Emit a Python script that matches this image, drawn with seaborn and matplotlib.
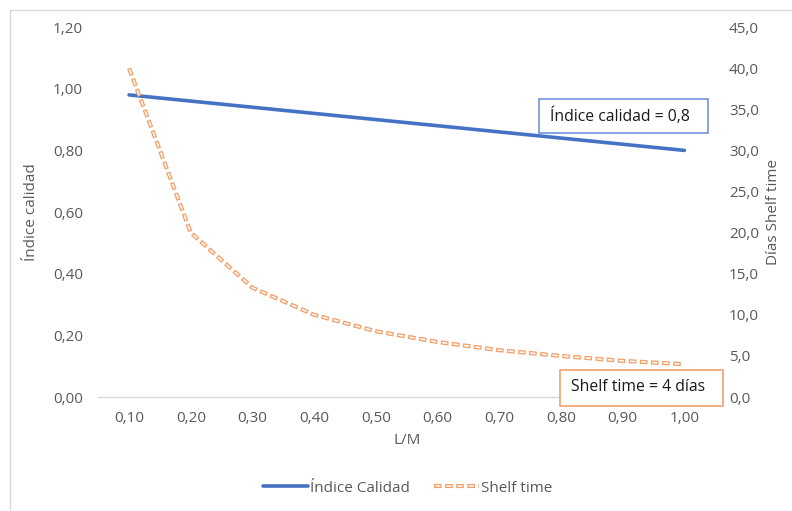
import matplotlib
matplotlib.use("Agg")
import matplotlib.pyplot as plt
from matplotlib.patches import Rectangle
from matplotlib.lines import Line2D
import seaborn as sns
import pandas as pd

lm_labels = ["0,10", "0,20", "0,30", "0,40", "0,50", "0,60", "0,70", "0,80", "0,90", "1,00"]
indice_calidad = [0.98, 0.96, 0.94, 0.92, 0.90, 0.88, 0.86, 0.84, 0.82, 0.80]
shelf_time = [40.0, 20.0, 13.3, 10.0, 8.0, 6.7, 5.7, 5.0, 4.4, 4.0]
left_ticks = ["0,00", "0,20", "0,40", "0,60", "0,80", "1,00", "1,20"]
right_ticks = ["0,0", "5,0", "10,0", "15,0", "20,0", "25,0", "30,0", "35,0", "40,0", "45,0"]

sns.set_theme(style="white")
plt.rcParams['font.family'] = ['Open Sans', 'DejaVu Sans']

BLUE = "#4472C4"
ORANGE_L = "#F2A06A"
GRAY = "#595959"

# dash pattern in points (absolute): orange outer dash, white inner
ON, OFF = 5.5, 2.5
OUT_LW, IN_LW = 3.0, 1.1
INSET = 0.9
outer_ls = (0, (ON / OUT_LW, OFF / OUT_LW))
inner_ls = (((ON + OFF) - INSET) / IN_LW, ((ON - 2 * INSET) / IN_LW, (OFF + 2 * INSET) / IN_LW))

df = pd.DataFrame({"lm": lm_labels, "ic": indice_calidad, "st": shelf_time})
df["pos"] = range(len(df))

fig = plt.figure(figsize=(7.92, 5.11), dpi=100)
ax = fig.add_axes([0.124, 0.223, 0.779, 0.724])
ax2 = ax.twinx()

sns.lineplot(data=df, x="pos", y="ic", ax=ax, color=BLUE, linewidth=2.6, legend=False)
sns.lineplot(data=df, x="pos", y="st", ax=ax2, color=ORANGE_L, linewidth=OUT_LW, legend=False)
sns.lineplot(data=df, x="pos", y="st", ax=ax2, color="white", linewidth=IN_LW, legend=False)
ax2.lines[0].set_linestyle(outer_ls)
ax2.lines[1].set_linestyle(inner_ls)
for ln in ax2.lines:
    ln.set_dash_capstyle("butt")

ax.set_xlim(-0.5, 9.5)
ax.set_ylim(0, 1.2)
ax2.set_ylim(0, 45)
ax.set_xticks(range(len(lm_labels)))
ax.set_xticklabels(lm_labels)
ax.set_yticks([i * 0.2 for i in range(len(left_ticks))])
ax.set_yticklabels(left_ticks)
ax2.set_yticks([i * 5 for i in range(len(right_ticks))])
ax2.set_yticklabels(right_ticks)

for a in (ax, ax2):
    for s in a.spines.values():
        s.set_visible(False)
    a.tick_params(axis="both", length=0, labelsize=11, colors=GRAY)
ax.spines["bottom"].set_visible(True)
ax.spines["bottom"].set_color("#D9D9D9")
ax.spines["bottom"].set_linewidth(1.0)
ax.tick_params(axis="x", pad=10)
ax.tick_params(axis="y", pad=11)
ax2.tick_params(axis="y", pad=10)

ax.set_xlabel("L/M", fontsize=11, color=GRAY, labelpad=5)
ax.set_ylabel("Índice calidad", fontsize=11, color=GRAY, labelpad=10)
ax2.set_ylabel("Días Shelf time", fontsize=11, color=GRAY, labelpad=5)

# Annotation boxes (figure pixel coordinates of the reference)
W, H = 792, 511
def fig_box(x0, y0, x1, y1, ec):
    fig.patches.append(Rectangle((x0 / W, 1 - y1 / H), (x1 - x0) / W, (y1 - y0) / H,
                                 transform=fig.transFigure, fc="white", ec=ec, lw=1.2,
                                 zorder=5))

fig_box(539, 99, 708, 133, "#6F95D8")
fig.text(620 / W, 1 - 116 / H, "Índice calidad = 0,8", fontsize=11.3, color="#1a1a1a",
         va="center", ha="center", zorder=6)
fig_box(560, 370, 723, 406, ORANGE_L)
fig.text(638 / W, 1 - 387 / H, "Shelf time = 4 días", fontsize=11.3, color="#1a1a1a",
         va="center", ha="center", zorder=6)

# Legend
h1 = Line2D([], [], color=BLUE, linewidth=2.6)
h2o = Line2D([], [], color=ORANGE_L, linewidth=OUT_LW, linestyle=outer_ls)
h2i = Line2D([], [], color="white", linewidth=IN_LW, linestyle=inner_ls)
fig.legend([h1, (h2o, h2i)], ["Índice Calidad", "Shelf time"], loc="center",
           bbox_to_anchor=(0.515, 1 - 488 / 511), ncol=2, frameon=False,
           fontsize=11, labelcolor=GRAY, handlelength=2.9, handletextpad=0.15,
           columnspacing=1.6)

# outer chart border (left and top visible)
fig.patches.append(Rectangle((10 / W, -0.1), 1.2, 1.1 - 10 / H, transform=fig.transFigure,
                             fill=False, ec="#D9D9D9", lw=1.0, zorder=-1))

fig.savefig("out.png", dpi=100, facecolor="white")
